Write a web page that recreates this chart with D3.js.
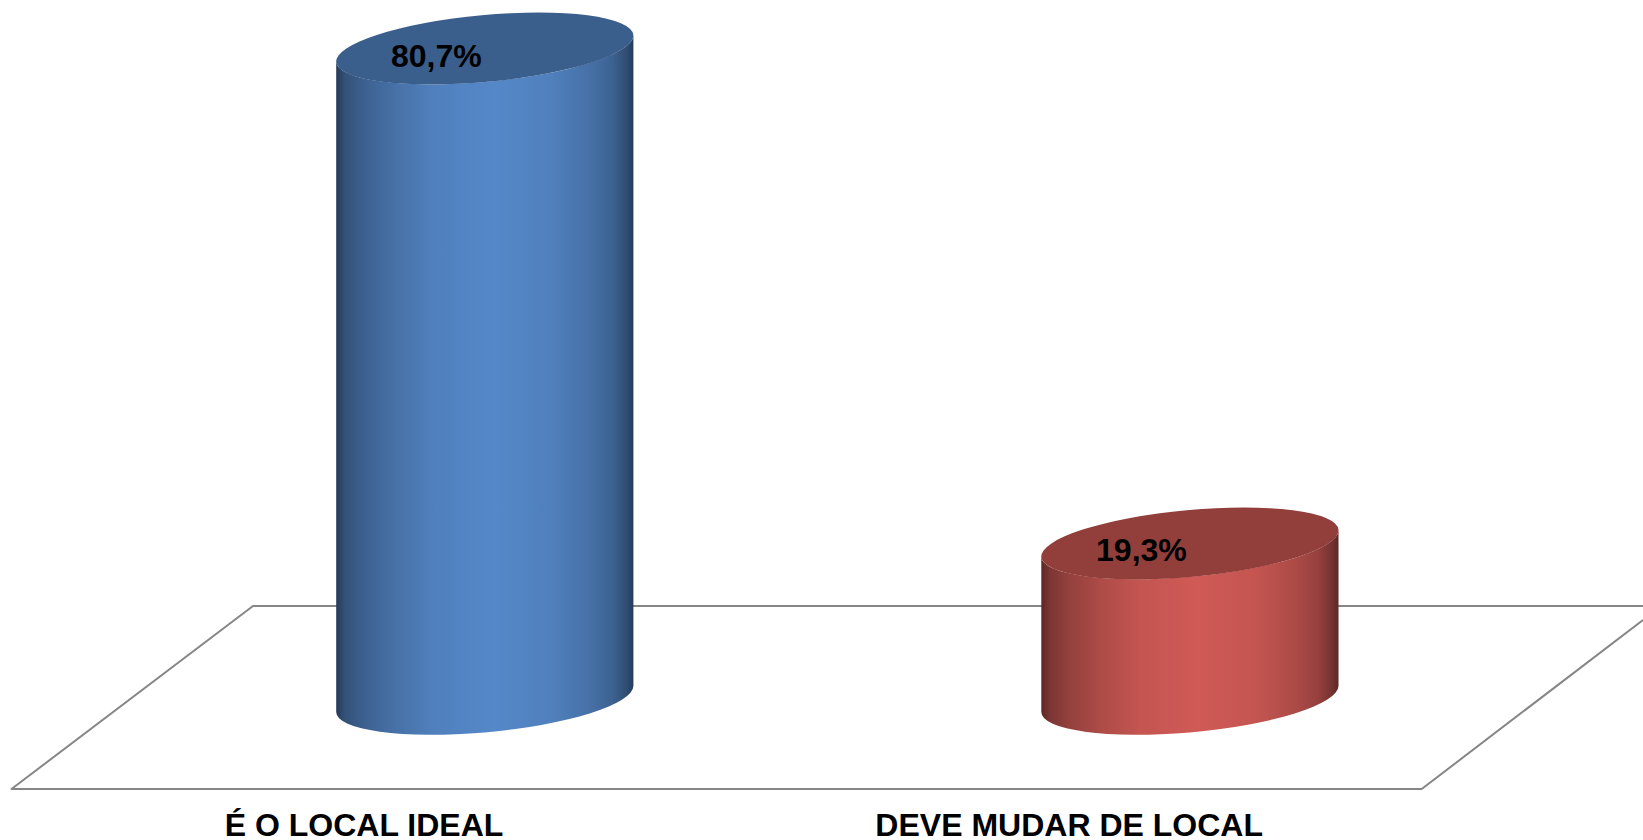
<!DOCTYPE html>
<html lang="en">
<head>
    <meta charset="UTF-8">
    <title>Local ideal</title>
    <style>
        body {
            margin: 0;
            padding: 0;
            overflow: hidden;
            background: #fff;
        }

        text {
            font-family: "Liberation Sans", Arial, sans-serif;
            font-weight: bold;
            fill: #000;
            text-anchor: middle;
        }

        .floor {
            fill: none;
            stroke: #868686;
            stroke-width: 2px;
            stroke-linejoin: round;
        }
    </style>
</head>
<body>
    <script src="https://d3js.org/d3.v7.min.js"></script>
    <script>
        const categories = ["É O LOCAL IDEAL", "DEVE MUDAR DE LOCAL"];
        const values = [80.7, 19.3];
        const valueLabels = ["80,7%", "19,3%"];
        const columnColors = ["#5588c9", "#d05a56"];

        const width = 1643;
        const height = 840;

        // floor of the 3d box: front edge + how far back it goes
        const frontY = 789;
        const backY = 606;
        const depth = 241.5;
        const baseY = 699;

        const x = d3.scaleBand().domain(categories).range([11.5, 1421.7]);
        const y = d3.scaleLinear().domain([0, 100]).range([baseY, baseY - 806]);

        // tilted ellipse for the column ends
        const rx = 148.6, rA = 149.2, rB = 33.4, tilt = -5.27, tipY = 13;

        const svg = d3.select("body").append("svg")
            .attr("width", width)
            .attr("height", height)
            .style("display", "block");

        const defs = svg.append("defs");

        const scaleColor = (c, f) => {
            const r = d3.rgb(c);
            return d3.rgb(r.r * f, r.g * f, r.b * f).formatHex();
        };

        // offset across the column, brightness
        const shade = [[0, 0.44], [0.03, 0.6], [0.1, 0.72], [0.2, 0.83], [0.33, 0.94], [0.53, 1], [0.72, 0.94], [0.85, 0.83], [0.93, 0.72], [0.98, 0.55], [1, 0.44]];

        columnColors.forEach((c, i) => {
            const g = defs.append("linearGradient").attr("id", "body" + i);
            shade.forEach(s => {
                g.append("stop")
                    .attr("offset", s[0])
                    .attr("stop-color", scaleColor(c, s[1]));
            });
        });

        const floor = d3.path();
        floor.moveTo(1643, backY);
        floor.lineTo(x.range()[0] + depth, backY);
        floor.lineTo(x.range()[0], frontY);
        floor.lineTo(x.range()[1], frontY);
        floor.lineTo(x.range()[1] + 221.3, frontY - 169);
        svg.append("path").attr("class", "floor").attr("d", floor.toString());

        const columns = svg.selectAll(".column")
            .data(categories.map((c, i) => ({ c, i, v: values[i], label: valueLabels[i] })))
            .enter().append("g")
            .attr("class", "column");

        const cx = d => x(d.c) + x.bandwidth() / 2 + depth / 2;

        columns.append("path")
            .attr("fill", d => `url(#body${d.i})`)
            .attr("d", d => {
                const l = cx(d) - rx, r = cx(d) + rx;
                return `M${l},${y(d.v) + tipY} L${l},${baseY + tipY}` +
                    ` A${rA},${rB} ${tilt} 0 0 ${r},${baseY - tipY}` +
                    ` L${r},${y(d.v) - tipY}` +
                    ` A${rA},${rB} ${tilt} 0 1 ${l},${y(d.v) + tipY} Z`;
            });

        columns.append("ellipse")
            .attr("rx", rA)
            .attr("ry", rB)
            .attr("transform", d => `translate(${cx(d)},${y(d.v)}) rotate(${tilt})`)
            .attr("fill", d => scaleColor(columnColors[d.i], 0.7));

        columns.append("text")
            .attr("x", d => cx(d) - 48.5)
            .attr("y", d => y(d.v) + 18)
            .attr("font-size", 32)
            .text(d => d.label);

        svg.selectAll(".cat")
            .data(categories)
            .enter().append("text")
            .attr("class", "cat")
            .attr("x", d => x(d) + x.bandwidth() / 2)
            .attr("y", 836)
            .attr("font-size", 32)
            .text(d => d);
    </script>
</body>
</html>
